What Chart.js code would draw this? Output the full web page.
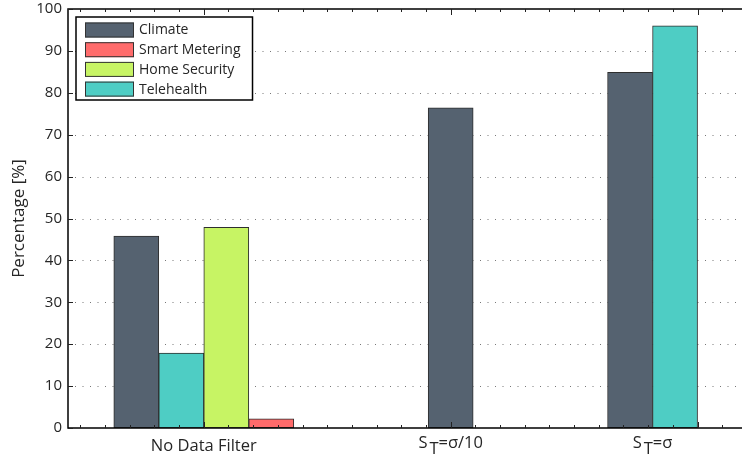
<!DOCTYPE html>
<html>
<head>
<meta charset="utf-8">
<script src="https://cdn.jsdelivr.net/npm/chart.js@4"></script>
<style>
html, body { margin: 0; padding: 0; background: #fff; overflow: hidden; }
</style>
</head>
<body>
<canvas id="myChart" width="742" height="462"></canvas>
<script>
// groups on the x axis ("_" marks a subscript letter)
const categories = ['No Data Filter', 'S_T=σ/10', 'S_T=σ'];
// series, in the order the bars sit inside a group
const climate       = [45.8, 76.4, 84.9];
const telehealth    = [17.9, null, 96.0];
const homeSecurity  = [47.9, null, 0];
const smartMetering = [2.2,  null, 0];
const yTicks = [0, 10, 20, 30, 40, 50, 60, 70, 80, 90, 100];
const legendOrder = ['Climate', 'Smart Metering', 'Home Security', 'Telehealth'];

const FONT = '"Open Sans", sans-serif';
const TXT = '#262626';

let ctx = document.getElementById('myChart');

// the picture is cut off on the right, so no right-hand border is drawn
const axesBox = {
    id: 'axesBox',
    beforeDatasetsDraw(chart) {
        const {ctx, chartArea: a, scales: {y}} = chart;
        ctx.save();
        ctx.strokeStyle = '#777';
        ctx.lineWidth = 1;
        ctx.setLineDash([1, 6.5]);
        yTicks.forEach(v => {
            if (v <= y.min || v >= y.max) return;
            const py = Math.round(y.getPixelForValue(v)) + 0.5;
            ctx.beginPath();
            ctx.moveTo(a.left + 7, py);
            ctx.lineTo(a.right + 2, py);
            ctx.stroke();
        });
        ctx.restore();
    },
    afterDatasetsDraw(chart) {
        const {ctx, chartArea: a, scales: {x, y}} = chart;
        ctx.save();
        ctx.strokeStyle = '#000';
        ctx.lineWidth = 1.5;
        ctx.beginPath();
        ctx.moveTo(a.right + 2, a.top);
        ctx.lineTo(a.left, a.top);
        ctx.lineTo(a.left, a.bottom);
        ctx.lineTo(a.right + 2, a.bottom);
        ctx.stroke();

        // tick marks, drawn inwards
        ctx.lineWidth = 1;
        ctx.strokeStyle = '#222';
        yTicks.forEach(v => {
            const py = Math.round(y.getPixelForValue(v)) + 0.5;
            ctx.beginPath();
            ctx.moveTo(a.left, py); ctx.lineTo(a.left + 5, py);
            ctx.stroke();
        });
        for (let i = Math.ceil(x.min * 10); i <= Math.floor(x.max * 10); i++) {
            const px = Math.round(x.getPixelForValue(i / 10)) + 0.5;
            const len = i % 10 === 0 ? 6 : 3;
            ctx.beginPath();
            ctx.moveTo(px, a.bottom); ctx.lineTo(px, a.bottom - len);
            ctx.moveTo(px, a.top); ctx.lineTo(px, a.top + len);
            ctx.stroke();
        }

        // group labels, centred under the bars that have a value
        ctx.fillStyle = TXT;
        ctx.textBaseline = 'alphabetic';
        ctx.font = '16.5px ' + FONT;
        categories.forEach((name, i) => {
            let lo = Infinity, hi = -Infinity;
            chart.data.datasets.forEach((ds, d) => {
                if (ds.data[i] > 0) {
                    const bar = chart.getDatasetMeta(d).data[i];
                    lo = Math.min(lo, bar.x - bar.width / 2);
                    hi = Math.max(hi, bar.x + bar.width / 2);
                }
            });
            const cx = (lo + hi) / 2;
            const parts = name.split('_');
            if (parts.length === 1) {
                ctx.textAlign = 'center';
                ctx.fillText(name, cx, 451);
            } else {
                const head = parts[0], sub = parts[1][0], rest = parts[1].slice(1);
                const w1 = ctx.measureText(head).width + 2;
                const w2 = ctx.measureText(sub).width;
                const w3 = ctx.measureText(rest).width;
                let px = cx - (w1 + w2 + w3) / 2;
                ctx.textAlign = 'left';
                ctx.fillText(head, px, 448);
                px += w1;
                ctx.fillText(sub, px, 454);
                px += w2;
                ctx.fillText(rest, px, 448);
            }
        });

        // legend box
        const items = legendOrder.map(l => chart.data.datasets.find(ds => ds.label === l));
        ctx.font = '14px ' + FONT;
        const textW = Math.max(...items.map(ds => ctx.measureText(ds.label).width));
        const bx = a.left + 8, by = a.top + 8;
        const bw = 63 + textW + 12, bh = 83;
        ctx.fillStyle = '#fff';
        ctx.fillRect(bx, by, bw, bh);
        ctx.strokeStyle = '#000';
        ctx.lineWidth = 1.5;
        ctx.strokeRect(bx, by, bw, bh);
        items.forEach((ds, k) => {
            const cy = by + 12.5 + k * 19.7;
            ctx.fillStyle = ds.backgroundColor;
            ctx.fillRect(bx + 9, cy - 7, 49, 15);
            ctx.strokeStyle = '#333';
            ctx.lineWidth = 1;
            ctx.strokeRect(bx + 9.5, cy - 6.5, 48, 14);
            ctx.fillStyle = TXT;
            ctx.textAlign = 'left';
            ctx.textBaseline = 'middle';
            ctx.fillText(ds.label, bx + 63, cy + 1);
        });
        ctx.restore();
    }
};

function makeSet(label, data, color) {
    return {
        label: label,
        data: data,
        backgroundColor: color,
        borderColor: '#2e2e2e',
        borderWidth: 1,
        borderSkipped: false
    };
}

let myChart = new Chart(ctx, {
    type: 'bar',
    data: {
        labels: categories.map((c, i) => i + 1),
        datasets: [
            makeSet('Climate', climate, '#556270'),
            makeSet('Telehealth', telehealth, '#4ecdc4'),
            makeSet('Home Security', homeSecurity, '#c7f464'),
            makeSet('Smart Metering', smartMetering, '#ff6b6b')
        ]
    },
    options: {
        responsive: false,
        animation: false,
        skipNull: true,
        barThickness: 45,
        layout: { padding: { top: 9, left: 0, right: 0, bottom: 0 } },
        plugins: {
            legend: { display: false },
            tooltip: { enabled: false }
        },
        scales: {
            x: {
                type: 'linear',
                offset: false,
                min: 0.45,
                max: 3.18,
                grid: { display: false, drawTicks: false, offset: false },
                border: { display: false },
                ticks: { display: false },
                afterFit: s => { s.height = 34; s.paddingLeft = 0; s.paddingRight = 0; }
            },
            y: {
                min: 0,
                max: 100,
                grid: { display: false, drawTicks: false },
                border: { display: false },
                afterBuildTicks: s => { s.ticks = yTicks.map(v => ({ value: v })); },
                ticks: {
                    padding: 6,
                    color: TXT,
                    font: { family: FONT, size: 15 }
                },
                title: {
                    display: true,
                    text: 'Percentage [%]',
                    color: TXT,
                    font: { family: FONT, size: 17 },
                    padding: { top: 9, bottom: 0 }
                },
                afterFit: s => { s.width = 68; s.paddingTop = 0; s.paddingBottom = 0; }
            }
        }
    },
    plugins: [axesBox]
});
</script>
</body>
</html>
